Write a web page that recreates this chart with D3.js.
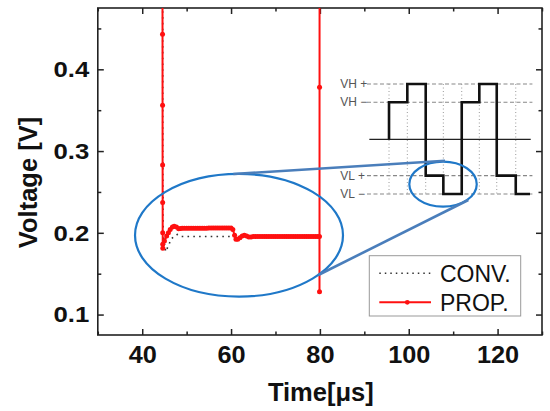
<!DOCTYPE html>
<html><head><meta charset="utf-8">
<script src="https://cdn.jsdelivr.net/npm/d3@7"></script>
<style>
html,body{margin:0;padding:0;background:#fff;}
svg{display:block;font-family:"Liberation Sans",Arial,sans-serif;}
</style></head>
<body><svg id="c" width="550" height="411"></svg>
<script>
// ---------- data ----------
const xMajor = [40, 60, 80, 100, 120];
const xMinor = [30, 50, 70, 90, 110, 130];
const yMajor = [0.1, 0.2, 0.3, 0.4];
const yMinor = [0.15, 0.25, 0.35, 0.45];
const xDomain = [30, 130];
const yDomain = [0.075, 0.475];

// PROP. series [time µs, voltage V]
const propTime = [44.55,44.56,44.57,44.58,44.59,44.6,44.61,44.62,44.64,45.0,45.5,45.9,46.3,46.8,47.2,47.7,48.2,48.6,49,49.5,50,50.5,51,51.5,52,52.5,53,53.5,54,54.5,55,55.5,56,56.5,57,57.5,58,58.5,59,59.5,60,60.4,60.8,61.1,61.5,62,62.5,63,63.5,64,64.5,65,65.5,66,66.5,67,67.5,68,68.5,69,69.5,70,70.5,71,71.5,72,72.5,73,73.5,74,74.5,75,75.5,76,76.5,77,77.5,78,78.5,79,79.5,79.9,79.91,79.92,79.93];
const propVolt = [0.62,0.53,0.443,0.356,0.283,0.237,0.2,0.186,0.181,0.19,0.196,0.2,0.204,0.207,0.208,0.207,0.205,0.2053,0.2055,0.2055,0.2055,0.2055,0.2055,0.2055,0.2055,0.2056,0.2056,0.2056,0.2057,0.2057,0.2058,0.2058,0.2058,0.2058,0.2058,0.2058,0.206,0.206,0.206,0.206,0.206,0.204,0.197,0.192,0.192,0.194,0.196,0.197,0.196,0.195,0.195,0.1955,0.1955,0.1955,0.1955,0.1955,0.1955,0.1955,0.1955,0.1955,0.1955,0.1955,0.1955,0.1955,0.1955,0.1955,0.1955,0.1955,0.1955,0.1955,0.1955,0.1955,0.1955,0.1955,0.1955,0.1955,0.1955,0.1955,0.1955,0.1955,0.1955,0.1955,0.128,0.378,0.62];

// CONV. series
const convTime = [44.6,44.62,44.7,45.0,45.3,46.6,47.9,48.8,59.3,65,79.9];
const convVolt = [0.62,0.3,0.2,0.186,0.177,0.193,0.198,0.1955,0.1955,0.1955,0.1955];

// inset schematic (in chart units)
const insetLevelNames = ["VH +", "VH \u2212", "VL +", "VL \u2212"];
const insetLevels = [0.382, 0.3597, 0.2699, 0.2475];
const insetMid = 0.3144;
const insetSwitchTimes = [95.56, 99.68, 103.82, 107.79, 111.93, 115.89, 119.81, 124.09];
const insetWaveLevels = [0.3597, 0.382, 0.2699, 0.2475, 0.3597, 0.382, 0.2699, 0.2475];
const insetEnd = 127.3;
const insetDashRange = [90.6, 127.84];
const insetMidRange = [91.13, 127.46];
const insetLabelTime = 84.6;

// callouts (chart units): [cx, cy, rx, ry]
const ellipses = [[61.79, 0.197, 23.41, 0.075], [107.72, 0.2595, 7.59, 0.0275]];
const connectors = [[[60.51, 0.2719], [108.17, 0.2881]], [[79.64, 0.1484], [113.41, 0.2401]]];

const seriesNames = ["CONV.", "PROP."];

// ---------- chart ----------
const svg = d3.select("#c");
const L = 97.8, R = 542, T = 8, B = 335;
const x = d3.scaleLinear().domain(xDomain).range([L, R]);
const y = d3.scaleLinear().domain(yDomain).range([B, T]);

svg.append("defs").append("clipPath").attr("id", "clip")
  .append("rect").attr("x", L).attr("y", T).attr("width", R - L).attr("height", B - T);

const axisColor = "#222";
function styleAxis(g) {
  g.select(".domain").remove();
  g.selectAll(".tick line").attr("stroke", axisColor).attr("stroke-width", 1.5);
}
function scaleTexts(g, sx) {
  g.selectAll(".tick text").each(function () {
    const t = d3.select(this);
    const tx = +t.attr("x") || 0, ty = +t.attr("y") || 0;
    t.attr("x", 0).attr("y", 0).attr("transform", `translate(${tx},${ty}) scale(${sx},1)`);
  });
}
// bottom
const gB = svg.append("g").attr("transform", `translate(0,${B})`)
  .call(d3.axisBottom(x).tickValues(xMajor).tickSize(-6).tickPadding(12).tickFormat(d3.format("d")));
styleAxis(gB);
gB.selectAll(".tick text").attr("font-size", 23).attr("font-weight", "bold").attr("fill", "#111");
scaleTexts(gB, 1.1);
svg.append("g").attr("transform", `translate(0,${B})`)
  .call(d3.axisBottom(x).tickValues(xMinor).tickSize(-3.5).tickFormat("")).call(styleAxis);
// top
svg.append("g").attr("transform", `translate(0,${T})`)
  .call(d3.axisTop(x).tickValues(xMajor).tickSize(-6).tickFormat("")).call(styleAxis);
svg.append("g").attr("transform", `translate(0,${T})`)
  .call(d3.axisTop(x).tickValues(xMinor).tickSize(-3.5).tickFormat("")).call(styleAxis);
// left
const gL = svg.append("g").attr("transform", `translate(${L},0)`)
  .call(d3.axisLeft(y).tickValues(yMajor).tickSize(-6).tickPadding(8.5).tickFormat(d3.format(".1f")));
styleAxis(gL);
gL.selectAll(".tick text").attr("font-size", 23).attr("font-weight", "bold").attr("fill", "#111");
scaleTexts(gL, 1.12);
svg.append("g").attr("transform", `translate(${L},0)`)
  .call(d3.axisLeft(y).tickValues(yMinor).tickSize(-3.5).tickFormat("")).call(styleAxis);
// right
svg.append("g").attr("transform", `translate(${R},0)`)
  .call(d3.axisRight(y).tickValues(yMajor).tickSize(-6).tickFormat("")).call(styleAxis);
svg.append("g").attr("transform", `translate(${R},0)`)
  .call(d3.axisRight(y).tickValues(yMinor).tickSize(-3.5).tickFormat("")).call(styleAxis);

// frame
svg.append("rect").attr("x", L).attr("y", T).attr("width", R - L).attr("height", B - T)
  .attr("fill", "none").attr("stroke", axisColor).attr("stroke-width", 1.6);

// axis titles
svg.append("text").attr("x", 320.8).attr("y", 401).attr("text-anchor", "middle")
  .attr("font-size", 25.5).attr("font-weight", "bold").attr("fill", "#111").text("Time[\u03bcs]");
svg.append("text").attr("transform", "translate(36.5,182.5) rotate(-90)").attr("text-anchor", "middle")
  .attr("font-size", 25.5).attr("font-weight", "bold").attr("fill", "#111").text("Voltage [V]");

// ---------- inset schematic ----------
const inset = svg.append("g");
// dashed level lines
inset.selectAll("line.lvl").data(insetLevels).join("line").attr("class", "lvl")
  .attr("x1", x(insetDashRange[0])).attr("x2", x(insetDashRange[1]))
  .attr("y1", d => y(d)).attr("y2", d => y(d))
  .attr("stroke", "#888").attr("stroke-width", 1.1).attr("stroke-dasharray", "4,2.5");
// vertical dotted guides
inset.selectAll("line.vg").data(insetSwitchTimes).join("line").attr("class", "vg")
  .attr("x1", d => x(d)).attr("x2", d => x(d))
  .attr("y1", y(insetLevels[0])).attr("y2", y(insetLevels[3]))
  .attr("stroke", "#999").attr("stroke-width", 1).attr("stroke-dasharray", "1,2.5");
// mid line
inset.append("line").attr("x1", x(insetMidRange[0])).attr("x2", x(insetMidRange[1]))
  .attr("y1", y(insetMid)).attr("y2", y(insetMid)).attr("stroke", "#222").attr("stroke-width", 1.3);
// labels
inset.selectAll("text").data(insetLevelNames).join("text")
  .attr("x", x(insetLabelTime)).attr("y", (d, i) => y(insetLevels[i])).attr("dy", "0.35em")
  .attr("font-size", 12).attr("fill", "#555").text(d => d);
// wave
const wavePts = [[insetSwitchTimes[0], insetMid]]
  .concat(insetSwitchTimes.map((t, i) => [t, insetWaveLevels[i]]))
  .concat([[insetEnd, insetWaveLevels[insetWaveLevels.length - 1]]]);
inset.append("path").datum(wavePts)
  .attr("d", d3.line().x(d => x(d[0])).y(d => y(d[1])).curve(d3.curveStepAfter))
  .attr("fill", "none").attr("stroke", "#111").attr("stroke-width", 2.6).attr("stroke-linejoin", "miter");

// ---------- data ----------
const plot = svg.append("g").attr("clip-path", "url(#clip)");
const conv = convTime.map((t, i) => [t, convVolt[i]]);
const prop = propTime.map((t, i) => [t, propVolt[i]]);
const line = d3.line().x(d => x(d[0])).y(d => y(d[1]));

// callouts
const callouts = svg.append("g");
callouts.selectAll("ellipse").data(ellipses).join("ellipse")
  .attr("cx", d => x(d[0])).attr("cy", d => y(d[1]))
  .attr("rx", d => x(d[0] + d[2]) - x(d[0])).attr("ry", d => y(d[1]) - y(d[1] + d[3]))
  .attr("fill", "none").attr("stroke", "#1f78c8").attr("stroke-width", 2.2);
callouts.selectAll("line").data(connectors).join("line")
  .attr("x1", d => x(d[0][0])).attr("y1", d => y(d[0][1]))
  .attr("x2", d => x(d[1][0])).attr("y2", d => y(d[1][1]))
  .attr("stroke", "#4a7ebb").attr("stroke-width", 2.6);

plot.append("path").datum(conv).attr("d", line).attr("fill", "none")
  .attr("stroke", "#333").attr("stroke-width", 1.6).attr("stroke-dasharray", "1.6,4.2");
plot.append("path").datum(prop).attr("d", line).attr("fill", "none")
  .attr("stroke", "#ff1010").attr("stroke-width", 2);
plot.selectAll("circle").data(prop).join("circle")
  .attr("cx", d => x(d[0])).attr("cy", d => y(d[1])).attr("r", 2.5).attr("fill", "#ff1010");

// ---------- legend ----------
const lg = svg.append("g");
lg.append("rect").attr("x", 369.3).attr("y", 255.7).attr("width", 151.4).attr("height", 60.3)
  .attr("fill", "#fff").attr("stroke", "#999").attr("stroke-width", 1);
const ly = [273.3, 302.3];
lg.append("line").attr("x1", 379.3).attr("x2", 431).attr("y1", ly[0]).attr("y2", ly[0])
  .attr("stroke", "#333").attr("stroke-width", 1.5).attr("stroke-dasharray", "1.5,4");
lg.append("line").attr("x1", 379.3).attr("x2", 431).attr("y1", ly[1]).attr("y2", ly[1])
  .attr("stroke", "#ff1010").attr("stroke-width", 2);
lg.append("circle").attr("cx", 407.3).attr("cy", ly[1]).attr("r", 2.4).attr("fill", "#ff1010");
lg.selectAll("text").data(seriesNames).join("text")
  .attr("x", 440).attr("y", (d, i) => ly[i] + 8.3)
  .attr("font-size", 23).attr("fill", "#111").text(d => d);
</script></body></html>
